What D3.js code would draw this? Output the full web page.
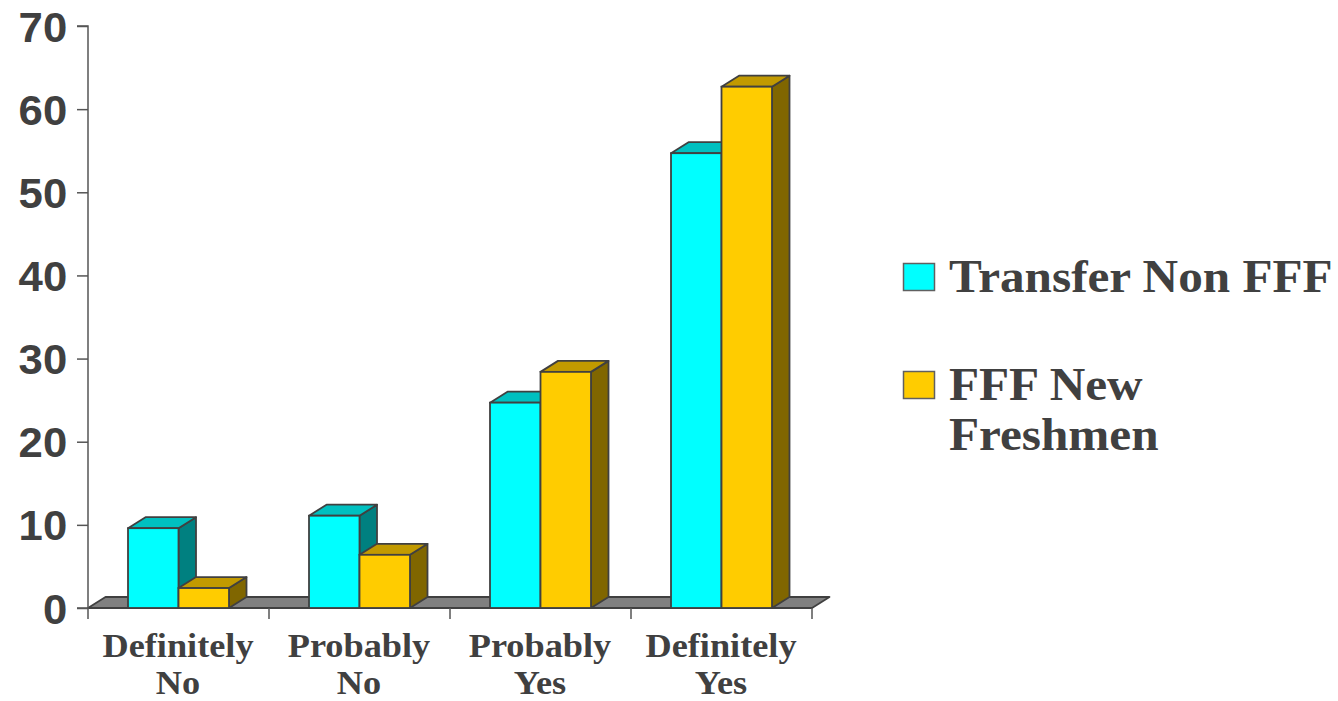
<!DOCTYPE html>
<html><head><meta charset="utf-8">
<script src="https://cdn.jsdelivr.net/npm/d3@7"></script>
<style>body{margin:0;background:#fff}svg{display:block}</style>
</head><body>
<script>
const categories = [["Definitely","No"],["Probably","No"],["Probably","Yes"],["Definitely","Yes"]];
const seriesNames = ["Transfer Non FFF", "FFF New Freshmen"];
const transferNonFFF = [9.6, 11.1, 24.7, 54.7];
const fffNewFreshmen = [2.4, 6.4, 28.4, 62.7];
const yTicks = [0,10,20,30,40,50,60,70];

const W = 1338, H = 701;
const svg = d3.select("body").append("svg").attr("width", W).attr("height", H);
const x0 = 88, x1 = 812, yBase = 608, yTop = 26;
const DX = 17.5, DY = -11;
const stroke = "#404040";
const fronts = ["#00FFFF", "#FFCC00"], tops = ["#00C0C0", "#C29A00"], sides = ["#008080", "#806600"];
const SX = 1.07;

const y = d3.scaleLinear().domain([0,70]).range([yBase, yTop]);
const xc = d3.scaleBand().domain(d3.range(categories.length)).range([x0, x1]).padding(0);
const xs = d3.scaleBand().domain(d3.range(seriesNames.length)).range([40, xc.bandwidth()-40]).padding(0);

// floor
svg.append("path")
  .attr("d", `M${x0},${yBase}L${x1},${yBase}L${x1+DX},${yBase+DY}L${x0+DX},${yBase+DY}Z`)
  .attr("fill", "#808080").attr("stroke", stroke).attr("stroke-width", 1.8).attr("stroke-linejoin","round");

// y axis
const yAxis = d3.axisLeft(y).tickValues(yTicks).tickSize(11).tickPadding(9);
const ga = svg.append("g").attr("transform", `translate(${x0},0)`).call(yAxis);
ga.select(".domain").attr("stroke", "#555").attr("stroke-width", 1.5).attr("d", `M-11,${yTop}H0V${yBase}H-11`);
ga.selectAll(".tick line").attr("stroke", "#555").attr("stroke-width", 1.5);
ga.selectAll(".tick text").attr("fill", "#404040").attr("font-family", "'Liberation Sans', Arial, sans-serif")
  .attr("font-weight", "bold").attr("font-size", 42).attr("dy", "0.36em")
  .attr("transform", "translate(-20,0) scale(1.04,1) translate(19.2,0)");

// x axis ticks
const xTickPos = d3.range(categories.length + 1).map(i => i < categories.length ? xc(i) : x1);
svg.selectAll("line.xt").data(xTickPos).enter().append("line")
  .attr("x1", d => d).attr("x2", d => d).attr("y1", yBase).attr("y2", yBase + 11)
  .attr("stroke", "#555").attr("stroke-width", 1.5);

// bars
const data = [transferNonFFF, fffNewFreshmen];
categories.forEach((c, ci) => {
  data.forEach((vals, si) => {
    const v = vals[ci];
    const l = xc(ci) + xs(si), r = l + xs.bandwidth(), t = y(v), b = y(0);
    const g = svg.append("g");
    g.append("path").attr("d", `M${r},${b}L${r+DX},${b+DY}L${r+DX},${t+DY}L${r},${t}Z`)
      .attr("fill", sides[si]).attr("stroke", stroke).attr("stroke-width", 1.8).attr("stroke-linejoin","round");
    g.append("path").attr("d", `M${l},${t}L${l+DX},${t+DY}L${r+DX},${t+DY}L${r},${t}Z`)
      .attr("fill", tops[si]).attr("stroke", stroke).attr("stroke-width", 1.8).attr("stroke-linejoin","round");
    g.append("rect").attr("x", l).attr("y", t).attr("width", r - l).attr("height", b - t)
      .attr("fill", fronts[si]).attr("stroke", stroke).attr("stroke-width", 1.8);
  });
});

// x labels
const xl = svg.append("g").attr("font-family", "'Liberation Serif', 'Times New Roman', serif")
  .attr("font-weight", "bold").attr("font-size", 33).attr("fill", "#404040").attr("text-anchor", "middle");
categories.forEach((c, ci) => {
  const cx = xc(ci) + xc.bandwidth()/2 - 0.5;
  c.forEach((line, li) => {
    xl.append("text").attr("transform", `translate(${cx},${657 + li*36.7}) scale(1.1,1)`).text(line);
  });
});

// legend
const legendLines = [["Transfer Non FFF"], ["FFF New", "Freshmen"]];
const legendY = [292, 400];
const lg = svg.append("g");
legendLines.forEach((lines, i) => {
  lg.append("rect").attr("x", 903.5).attr("y", legendY[i] - 28.5).attr("width", 31).attr("height", 27)
    .attr("fill", fronts[i]).attr("stroke", "#606060").attr("stroke-width", 1.5);
  lines.forEach((t, li) => {
    lg.append("text").attr("transform", `translate(949,${legendY[i] + li*50}) scale(${SX},1)`).text(t)
      .attr("font-family", "'Liberation Serif', 'Times New Roman', serif").attr("font-weight", "bold")
      .attr("font-size", 46).attr("fill", "#404040");
  });
});
</script>
</body></html>
